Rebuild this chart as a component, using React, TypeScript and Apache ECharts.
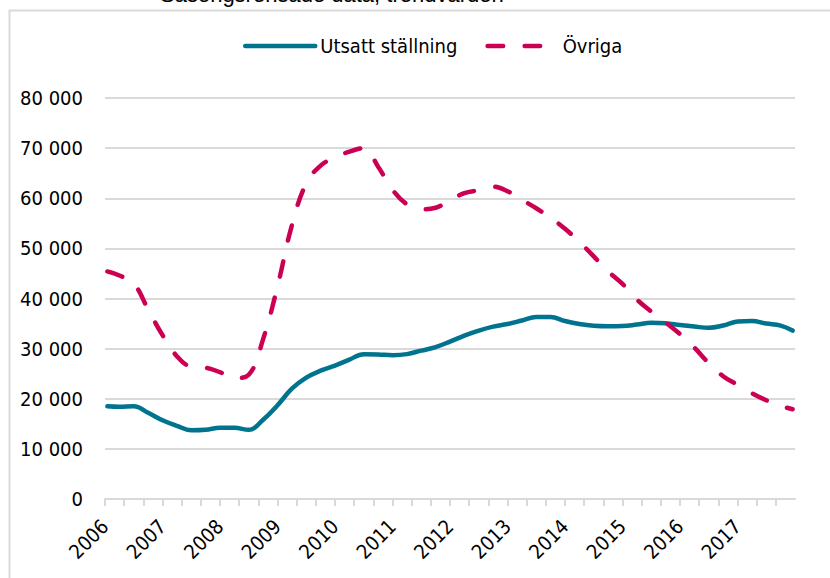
import React, { useEffect, useRef } from "react";
import * as echarts from "echarts";

// Position of each sample, in months since January 2006 (axis units)
const samplePositions = [
  0.5, 3, 6, 9, 12, 15, 18, 21, 24, 27, 30, 33, 36, 39, 42, 45, 48, 51, 54, 57,
  60, 63, 66, 69, 72, 75, 78, 81, 84, 87, 90, 93, 96, 99, 102, 105, 108, 111,
  114, 117, 120, 123, 126, 129, 132, 135, 138, 141, 143.5,
];

const utsattStallning = [
  18500, 18400, 18500, 17200, 15700, 14600, 13700, 13800, 14200, 14200, 13800,
  15800, 18700, 22000, 24200, 25600, 26600, 27800, 28900, 28850, 28700, 28900,
  29600, 30300, 31400, 32600, 33600, 34400, 34900, 35600, 36300, 36300, 35500,
  34900, 34550, 34450, 34500, 34800, 35150, 35050, 34700, 34400, 34150, 34600,
  35400, 35500, 35000, 34600, 33600,
];

const ovriga = [
  45400, 44600, 43000, 37800, 32700, 28500, 26400, 26200, 25300, 24100, 24800,
  31900, 42400, 54600, 63000, 66500, 68150, 69300, 70000, 66300, 61700, 58800,
  57800, 58100, 59600, 61000, 61600, 62300, 61400, 59700, 58000, 56100, 53900,
  51300, 48400, 45400, 42900, 39800, 37400, 35200, 32900, 30200, 27100, 24500,
  22800, 21100, 19700, 18600, 17900,
];

const seriesNames = ["Utsatt ställning", "Övriga"];
const firstYear = 2006;
const yearCount = 12;
const subtitle = "Säsongsrensade data, trendvärden";

const FONT = "'DejaVu Sans Condensed', 'Liberation Sans', sans-serif";

export default function App() {
  const ref = useRef<HTMLDivElement>(null);

  useEffect(() => {
    if (!ref.current) return;
    const chart = echarts.init(ref.current, undefined, { renderer: "svg" });

    const blueData = samplePositions.map((p, i) => [p, utsattStallning[i]]);
    const redData = samplePositions.map((p, i) => [p, ovriga[i]]);

    chart.setOption({
      animation: false,
      backgroundColor: "#ffffff",
      graphic: [
        {
          type: "rect",
          left: 7,
          top: 8,
          shape: { width: 900, height: 700 },
          style: { fill: "none", stroke: "#d9d9d9", lineWidth: 2 },
          silent: true,
          z: -1,
        },
        {
          type: "text",
          x: 160,
          y: 5,
          style: {
            text: subtitle,
            font: "22px 'Liberation Sans', Arial, sans-serif",
            fill: "#000",
            textVerticalAlign: "bottom",
          },
        },
      ],
      legend: {
        left: 243,
        top: 34,
        padding: 0,
        itemWidth: 70,
        itemHeight: 4,
        itemGap: 28,
        data: seriesNames,
        itemStyle: { opacity: 0 },
        textStyle: {
          fontFamily: FONT,
          fontSize: 20,
          color: "#000",
          lineHeight: 24,
        },
        lineStyle: { width: 4.5 },
      },
      grid: { left: 105, right: 35, top: 98, bottom: 79, containLabel: false },
      xAxis: {
        type: "value",
        min: 0,
        max: yearCount * 12,
        interval: 4,
        axisLine: { show: true, lineStyle: { color: "#d9d9d9", width: 2 } },
        axisTick: { show: true, length: 7, lineStyle: { color: "#d9d9d9", width: 2 } },
        splitLine: { show: false },
        axisLabel: {
          rotate: 45,
          margin: 24,
          fontFamily: FONT,
          fontSize: 20,
          color: "#000",
          showMaxLabel: false,
          formatter: (v: number) =>
            v % 12 === 0 && v < yearCount * 12 ? String(firstYear + v / 12) : "",
        },
      },
      yAxis: {
        type: "value",
        min: 0,
        max: 80000,
        interval: 10000,
        axisLine: { show: false },
        axisTick: { show: false },
        splitLine: { lineStyle: { color: "#d9d9d9", width: 2 } },
        axisLabel: {
          margin: 22,
          fontFamily: FONT,
          fontSize: 20,
          color: "#000",
          formatter: (v: number) =>
            v === 0 ? "0" : `${Math.floor(v / 1000)} ${String(v % 1000).padStart(3, "0")}`,
        },
      },
      series: [
        {
          name: seriesNames[0],
          type: "line",
          data: blueData,
          smooth: 0.4,
          showSymbol: false,
          symbol: "none",
          lineStyle: { color: "#00738f", width: 4.5, cap: "round", join: "round" },
          itemStyle: { color: "#00738f" },
          z: 2,
        },
        {
          name: seriesNames[1],
          type: "line",
          data: redData,
          smooth: 0.4,
          showSymbol: false,
          symbol: "none",
          lineStyle: {
            color: "#cc0052",
            width: 4.5,
            type: [15.5, 21.5],
            cap: "round",
            join: "round",
          },
          itemStyle: { color: "#cc0052" },
          z: 3,
        },
      ],
    });

    return () => chart.dispose();
  }, []);

  return (
    <div
      ref={ref}
      style={{
        position: "fixed",
        left: 0,
        top: 0,
        width: 830,
        height: 578,
        background: "#fff",
      }}
    />
  );
}
